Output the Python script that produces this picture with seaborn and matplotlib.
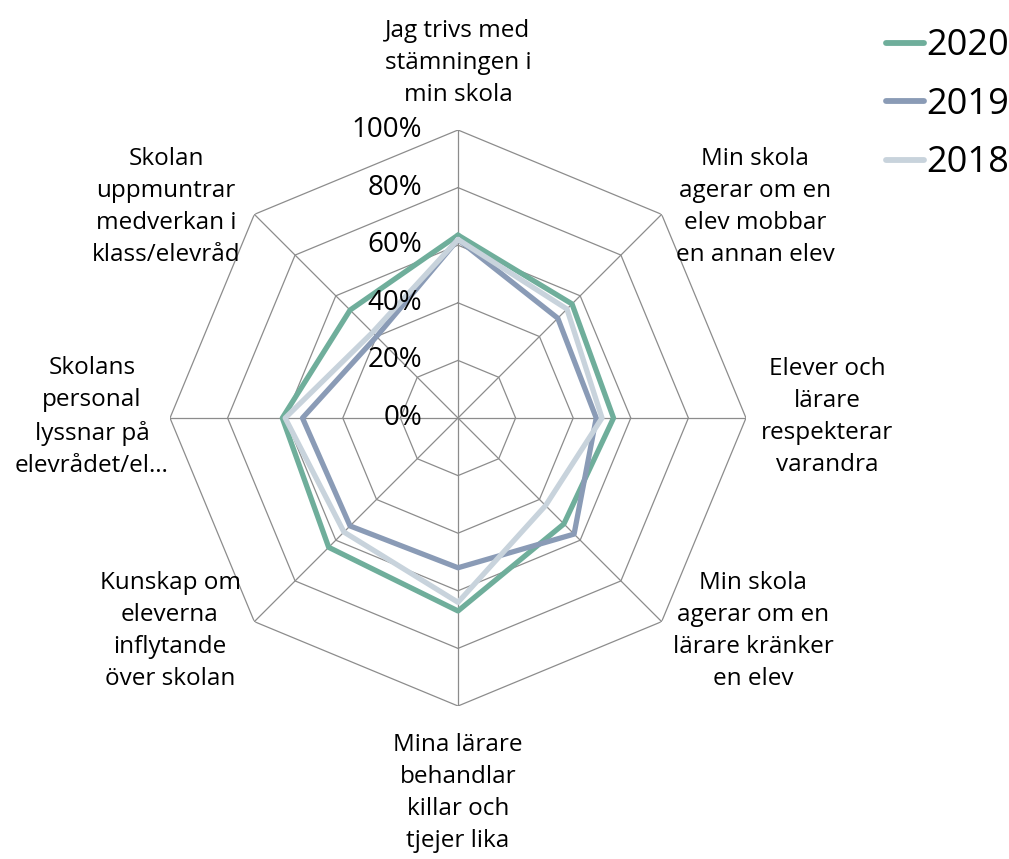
import numpy as np
import pandas as pd
import matplotlib
matplotlib.use("Agg")
import matplotlib.pyplot as plt
import matplotlib.transforms as mtransforms
import seaborn as sns

# Data (share of students, %)
categories = [
    "Jag trivs med\nstämningen i\nmin skola",
    "Min skola\nagerar om en\nelev mobbar\nen annan elev",
    "Elever och\nlärare\nrespekterar\nvarandra",
    "Min skola\nagerar om en\nlärare kränker\nen elev",
    "Mina lärare\nbehandlar\nkillar och\ntjejer lika",
    "Kunskap om\neleverna\ninflytande\növer skolan",
    "Skolans\npersonal\nlyssnar på\nelevrådet/el…",
    "Skolan\nuppmuntrar\nmedverkan i\nklass/elevråd",
]
years = ["2020", "2019", "2018"]
v2020 = [63.5, 56, 54, 52, 67, 63.5, 61, 53]
v2019 = [62, 49, 48, 57, 52, 53, 54, 40]
v2018 = [62, 53.5, 50, 43, 64, 56, 60, 42]
tick_levels = [0, 20, 40, 60, 80, 100]
tick_labels = ["0%", "20%", "40%", "60%", "80%", "100%"]
colors = ["#6FAE9B", "#8A9BB6", "#C8D3DC"]

sns.set_style("white")
plt.rcParams["font.family"] = ["Open Sans", "DejaVu Sans"]
plt.rcParams["text.color"] = "black"

W, H = 1009, 859
fig = plt.figure(figsize=(W / 100, H / 100), dpi=100)

# polar axes placed so the 100% ring matches the reference
cx, cy, R = 458, 418, 288
ax = fig.add_axes([(cx - R) / W, 1 - (cy + R) / H, 2 * R / W, 2 * R / H], projection="polar")
ax.set_theta_offset(np.pi / 2)
ax.set_theta_direction(-1)

n = len(categories)
theta = np.linspace(0, 2 * np.pi, n, endpoint=False)
theta_closed = np.append(theta, 2 * np.pi)

# polygon grid
for lvl in tick_levels[1:]:
    ax.plot(theta_closed, [lvl] * (n + 1), color="#8C8C8C", lw=0.9, zorder=1)
for t in theta:
    ax.plot([t, t], [0, 100], color="#8C8C8C", lw=0.9, zorder=1)

rows = []
for year, vals in zip(years, [v2020, v2019, v2018]):
    closed = vals + vals[:1]
    for t, v in zip(theta_closed, closed):
        rows.append({"theta": t, "value": v, "year": year})
df = pd.DataFrame(rows)

sns.lineplot(data=df, x="theta", y="value", hue="year", hue_order=years,
             palette=colors, sort=False, estimator=None, linewidth=3.8,
             ax=ax, zorder=3)

ax.set_ylim(0, 100)
ax.grid(False)
ax.spines["polar"].set_visible(False)
ax.set_xticks([])
ax.set_yticks([])
ax.set_xlabel("")
ax.set_ylabel("")

# radial tick labels to the left of the vertical spoke
off = mtransforms.offset_copy(ax.transData, fig=fig, x=-36, y=0, units="dots")
for lvl, lab in zip(tick_levels, tick_labels):
    ax.text(0, lvl, lab, transform=off, ha="right", va="center", fontsize=20, color="black")

# category labels (pixel positions as in the reference)
label_pos = [(458, 63), (755, 207), (827, 417), (753, 631),
             (458, 793), (170, 631), (92, 417), (166, 207)]
for lab, (x, y) in zip(categories, label_pos):
    fig.text(x / W, 1 - y / H, lab, ha="center", va="center",
             fontsize=17.5, linespacing=1.45, color="black")

handles, labels = ax.get_legend_handles_labels()
ax.get_legend().remove()
for h in handles:
    h.set_linewidth(4.2)
fig.legend(handles, labels, loc="upper left", bbox_to_anchor=(872 / W, 1 - 14 / H),
           frameon=False, fontsize=26, handlelength=1.05, handletextpad=0.05,
           labelspacing=0.62, borderaxespad=0, labelcolor="black")

fig.savefig("out.png", dpi=100)
